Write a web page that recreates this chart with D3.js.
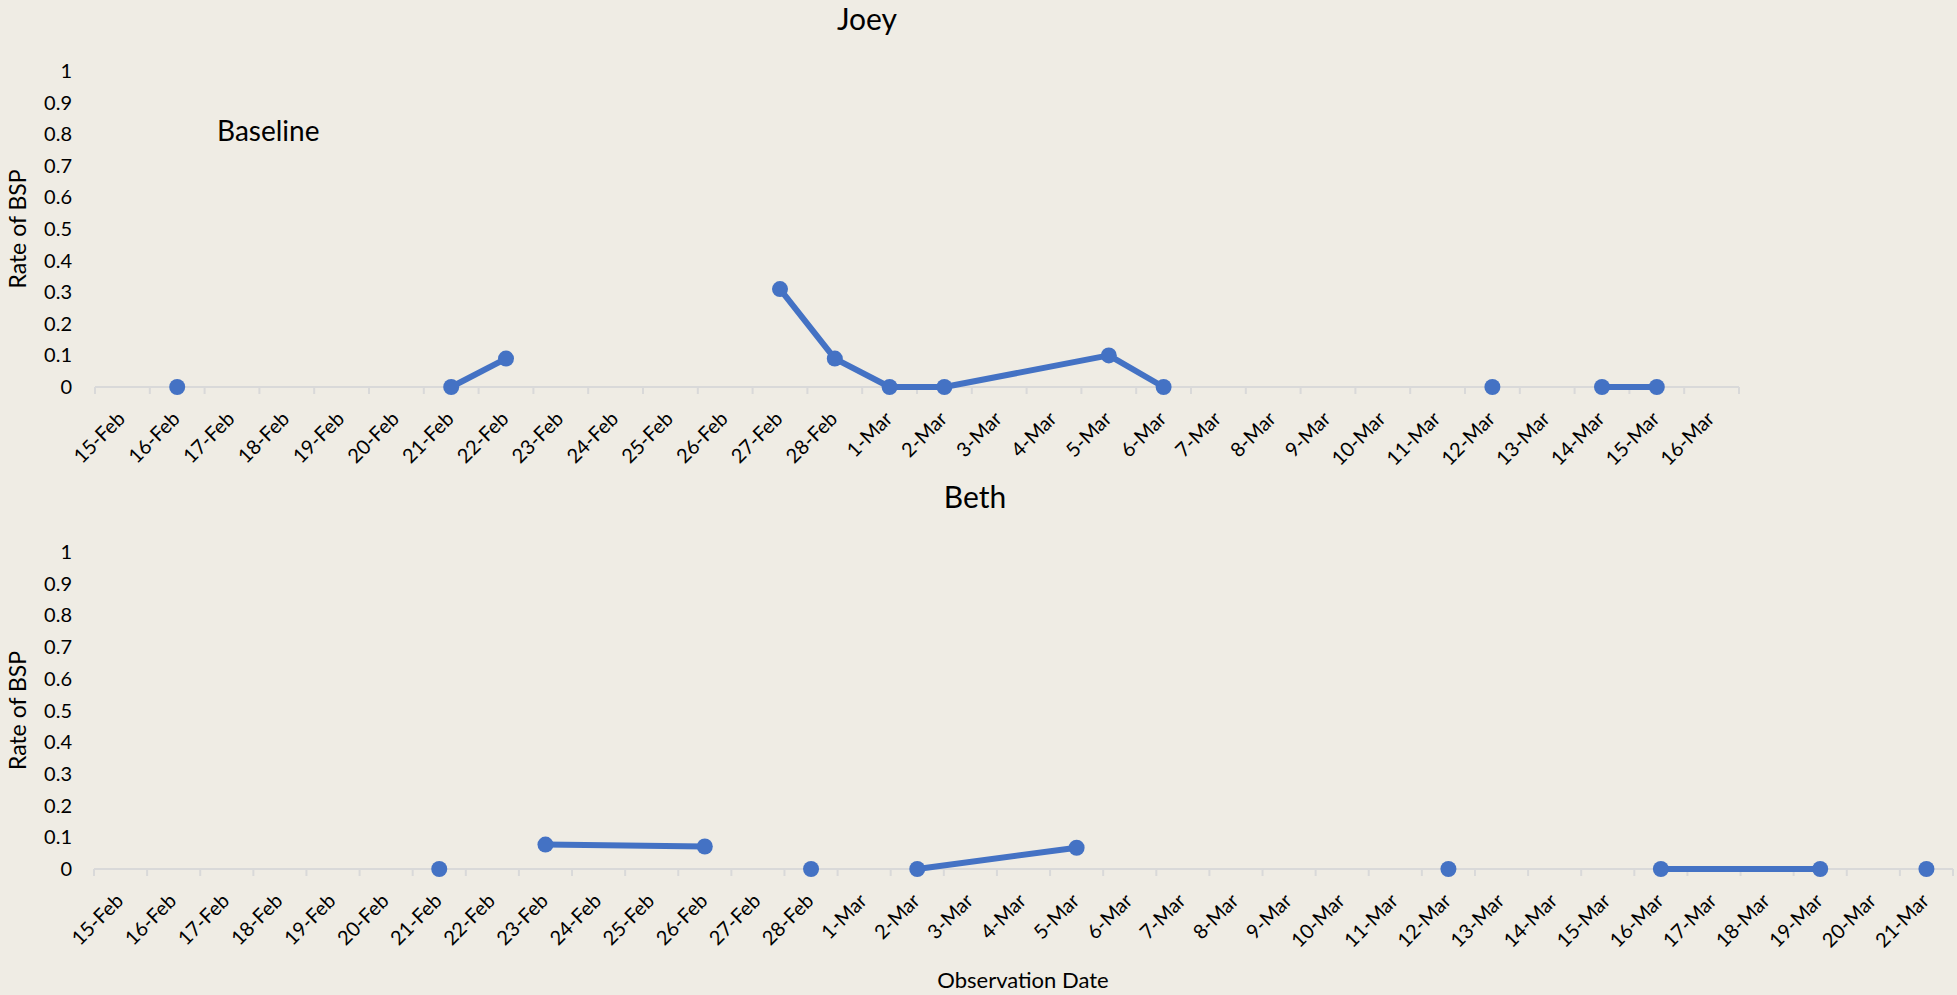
<!DOCTYPE html>
<html lang="en">
<head>
    <meta charset="UTF-8">
    <title>Joey / Beth rate of BSP</title>
    <script src="https://cdn.jsdelivr.net/npm/d3@7/dist/d3.min.js"></script>
    <style>
        body {
            margin: 0;
            background: #efece4;
        }
        svg {
            display: block;
            font-family: Lato, "Noto Sans", sans-serif;
        }
        .axis-line, .tick-mark {
            stroke: #d9d9d9;
            stroke-width: 2;
        }
        .series {
            fill: none;
            stroke: #4472c4;
            stroke-width: 6;
            stroke-linejoin: round;
        }
        .dot {
            fill: #4472c4;
        }
    </style>
</head>
<body>
<svg class="graph"></svg>
<script>
    // svg size
    var width = 1957;
    var height = 995;

    // y tick labels
    var yTicks = [0, 0.1, 0.2, 0.3, 0.4, 0.5, 0.6, 0.7, 0.8, 0.9, 1];

    // category axes
    var joeyDates = ["15-Feb", "16-Feb", "17-Feb", "18-Feb", "19-Feb", "20-Feb", "21-Feb", "22-Feb",
        "23-Feb", "24-Feb", "25-Feb", "26-Feb", "27-Feb", "28-Feb", "1-Mar", "2-Mar", "3-Mar", "4-Mar",
        "5-Mar", "6-Mar", "7-Mar", "8-Mar", "9-Mar", "10-Mar", "11-Mar", "12-Mar", "13-Mar", "14-Mar",
        "15-Mar", "16-Mar"];
    var bethDates = ["15-Feb", "16-Feb", "17-Feb", "18-Feb", "19-Feb", "20-Feb", "21-Feb", "22-Feb",
        "23-Feb", "24-Feb", "25-Feb", "26-Feb", "27-Feb", "28-Feb", "1-Mar", "2-Mar", "3-Mar", "4-Mar",
        "5-Mar", "6-Mar", "7-Mar", "8-Mar", "9-Mar", "10-Mar", "11-Mar", "12-Mar", "13-Mar", "14-Mar",
        "15-Mar", "16-Mar", "17-Mar", "18-Mar", "19-Mar", "20-Mar", "21-Mar"];

    // observations; points sharing a run id are joined by a line
    var joeyObs = ["16-Feb", "21-Feb", "22-Feb", "27-Feb", "28-Feb", "1-Mar", "2-Mar", "5-Mar", "6-Mar",
        "12-Mar", "14-Mar", "15-Mar"];
    var joeyRates = [0, 0, 0.09, 0.31, 0.09, 0, 0, 0.10, 0, 0, 0, 0];
    var joeyRuns = [1, 2, 2, 3, 3, 3, 3, 3, 3, 4, 5, 5];

    var bethObs = ["21-Feb", "23-Feb", "26-Feb", "28-Feb", "2-Mar", "5-Mar", "12-Mar", "16-Mar",
        "19-Mar", "21-Mar"];
    var bethRates = [0, 0.077, 0.071, 0, 0, 0.067, 0, 0, 0, 0];
    var bethRuns = [1, 2, 2, 3, 4, 4, 5, 6, 6, 7];

    var svg = d3.select('.graph')
        .attr('width', width)
        .attr('height', height);

    function drawPanel(opt) {
        var x = d3.scaleBand()
            .domain(opt.dates)
            .range([opt.left, opt.right]);
        var y = d3.scaleLinear()
            .domain([0, 1])
            .range([opt.bottom, opt.top]);

        var g = svg.append('g');

        // category axis line + tick marks between categories
        g.append('line')
            .attr('class', 'axis-line')
            .attr('x1', opt.left).attr('x2', opt.right)
            .attr('y1', y(0)).attr('y2', y(0));

        var edges = opt.dates.map(function (d) { return x(d); }).concat([opt.right]);
        g.selectAll('.tick-mark')
            .data(edges)
            .enter()
            .append('line')
            .attr('class', 'tick-mark')
            .attr('x1', function (d) { return d; })
            .attr('x2', function (d) { return d; })
            .attr('y1', y(0))
            .attr('y2', y(0) + 7);

        // rotated date labels
        g.selectAll('.xlab')
            .data(opt.dates)
            .enter()
            .append('text')
            .attr('class', 'xlab')
            .attr('transform', function (d) {
                return 'translate(' + (x(d) + x.bandwidth() / 2 + 4) + ',' + (y(0) + 33) + ') rotate(-45)';
            })
            .attr('text-anchor', 'end')
            .attr('font-size', 20)
            .attr('fill', '#000')
            .text(function (d) { return d; });

        // value axis labels (no axis line)
        g.selectAll('.ylab')
            .data(yTicks)
            .enter()
            .append('text')
            .attr('class', 'ylab')
            .attr('x', 72)
            .attr('y', function (d) { return y(d); })
            .attr('dy', '0.35em')
            .attr('text-anchor', 'end')
            .attr('font-size', 20)
            .attr('fill', '#000')
            .text(function (d) { return d; });

        g.append('text')
            .attr('transform', 'translate(26,' + ((opt.top + opt.bottom) / 2) + ') rotate(-90)')
            .attr('text-anchor', 'middle')
            .attr('font-size', 23)
            .attr('fill', '#000')
            .text('Rate of BSP');

        g.append('text')
            .attr('x', opt.titleX)
            .attr('y', opt.titleY)
            .attr('text-anchor', 'middle')
            .attr('font-size', 30)
            .attr('fill', '#000')
            .text(opt.title);

        // data
        var pts = opt.obs.map(function (d, i) {
            return {date: d, rate: opt.rates[i], run: opt.runs[i]};
        });
        var cx = function (d) { return x(d.date) + x.bandwidth() / 2; };
        var line = d3.line()
            .x(cx)
            .y(function (d) { return y(d.rate); });

        g.selectAll('.series')
            .data(Array.from(d3.group(pts, function (d) { return d.run; }).values()))
            .enter()
            .append('path')
            .attr('class', 'series')
            .attr('d', line);

        g.selectAll('.dot')
            .data(pts)
            .enter()
            .append('circle')
            .attr('class', 'dot')
            .attr('cx', cx)
            .attr('cy', function (d) { return y(d.rate); })
            .attr('r', 8);

        return g;
    }

    drawPanel({
        title: 'Joey', titleX: 867, titleY: 30,
        dates: joeyDates, obs: joeyObs, rates: joeyRates, runs: joeyRuns,
        left: 95, right: 1739, top: 71, bottom: 387
    });

    drawPanel({
        title: 'Beth', titleX: 975, titleY: 508,
        dates: bethDates, obs: bethObs, rates: bethRates, runs: bethRuns,
        left: 94, right: 1953, top: 552, bottom: 869
    });

    // phase label
    svg.append('text')
        .attr('x', 217)
        .attr('y', 141)
        .attr('font-size', 28)
        .attr('fill', '#000')
        .text('Baseline');

    svg.append('text')
        .attr('x', 1023)
        .attr('y', 988)
        .attr('text-anchor', 'middle')
        .attr('font-size', 22)
        .attr('fill', '#000')
        .text('Observation Date');
</script>
</body>
</html>
